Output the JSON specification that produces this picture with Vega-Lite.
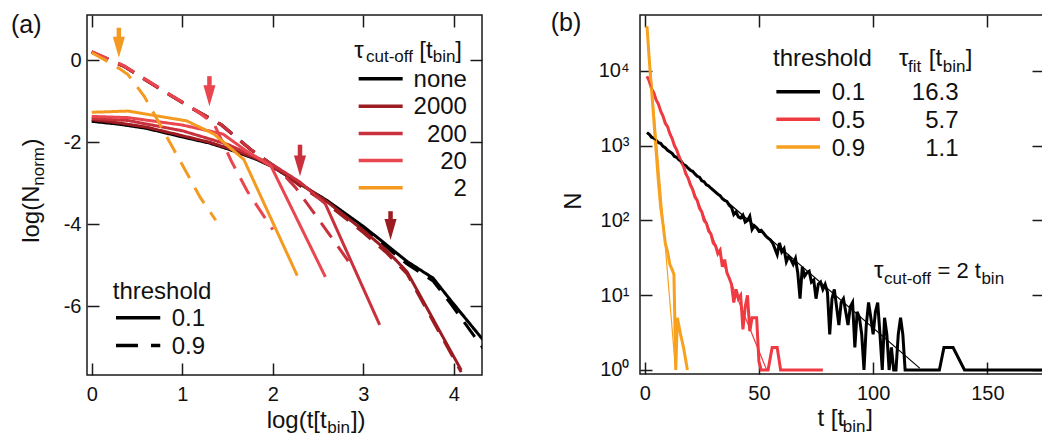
{
"$schema": "https://vega.github.io/schema/vega-lite/v6.json",
"background": "white",
"padding": {"left": 10, "top": 10, "right": 0, "bottom": 0},
"bounds": "flush",
"spacing": 158,
"data": {"values": [{}]},
"resolve": {"scale": {"color": "independent", "strokeDash": "independent"}},
"config": {
  "font": "Liberation Sans",
  "view": {"stroke": "#1a1a1a", "strokeWidth": 1.5},
  "axis": {"domain": false, "grid": false, "tickColor": "#1a1a1a", "tickWidth": 1.5, "tickSize": -12, "labelFontSize": 20, "labelColor": "#111111", "labelFont": "Liberation Sans", "title": null},
  "text": {"font": "Liberation Sans", "fill": "#111111"}
},
"datasets": {
  "curvesA": [
    {"c":"none","h":"0.1","x":0,"y":-1.49},{"c":"none","h":"0.1","x":0.3,"y":-1.56},{"c":"none","h":"0.1","x":0.6,"y":-1.66},{"c":"none","h":"0.1","x":1.0,"y":-1.87},{"c":"none","h":"0.1","x":1.3,"y":-2.02},{"c":"none","h":"0.1","x":1.5,"y":-2.16},{"c":"none","h":"0.1","x":1.8,"y":-2.4},{"c":"none","h":"0.1","x":2.0,"y":-2.6},{"c":"none","h":"0.1","x":2.3,"y":-3.02},{"c":"none","h":"0.1","x":2.6,"y":-3.42},{"c":"none","h":"0.1","x":3.0,"y":-4.05},{"c":"none","h":"0.1","x":3.2,"y":-4.4},{"c":"none","h":"0.1","x":3.48,"y":-4.9},{"c":"none","h":"0.1","x":3.77,"y":-5.31},{"c":"none","h":"0.1","x":3.96,"y":-5.84},{"c":"none","h":"0.1","x":4.29,"y":-6.73},{"c":"none","h":"0.1","x":4.4,"y":-7.0},
    {"c":"none","h":"0.9","x":0,"y":0.2},{"c":"none","h":"0.9","x":0.36,"y":-0.15},{"c":"none","h":"0.9","x":0.8,"y":-0.76},{"c":"none","h":"0.9","x":1.13,"y":-1.2},{"c":"none","h":"0.9","x":1.43,"y":-1.57},{"c":"none","h":"0.9","x":1.76,"y":-2.18},{"c":"none","h":"0.9","x":2.07,"y":-2.67},{"c":"none","h":"0.9","x":2.3,"y":-3.04},{"c":"none","h":"0.9","x":2.6,"y":-3.46},{"c":"none","h":"0.9","x":3.0,"y":-4.1},{"c":"none","h":"0.9","x":3.2,"y":-4.45},{"c":"none","h":"0.9","x":3.48,"y":-4.96},{"c":"none","h":"0.9","x":3.77,"y":-5.38},{"c":"none","h":"0.9","x":3.96,"y":-5.92},{"c":"none","h":"0.9","x":4.29,"y":-6.92},{"c":"none","h":"0.9","x":4.4,"y":-7.25},
    {"c":"2000","h":"0.1","x":0,"y":-1.45},{"c":"2000","h":"0.1","x":0.3,"y":-1.53},{"c":"2000","h":"0.1","x":0.6,"y":-1.63},{"c":"2000","h":"0.1","x":1.0,"y":-1.84},{"c":"2000","h":"0.1","x":1.3,"y":-2.0},{"c":"2000","h":"0.1","x":1.5,"y":-2.14},{"c":"2000","h":"0.1","x":1.8,"y":-2.38},{"c":"2000","h":"0.1","x":2.0,"y":-2.6},{"c":"2000","h":"0.1","x":2.3,"y":-3.0},{"c":"2000","h":"0.1","x":2.6,"y":-3.45},{"c":"2000","h":"0.1","x":3.0,"y":-4.15},{"c":"2000","h":"0.1","x":3.25,"y":-4.62},{"c":"2000","h":"0.1","x":3.48,"y":-5.15},{"c":"2000","h":"0.1","x":4.08,"y":-7.55},
    {"c":"2000","h":"0.9","x":0,"y":0.19},{"c":"2000","h":"0.9","x":0.36,"y":-0.16},{"c":"2000","h":"0.9","x":0.8,"y":-0.77},{"c":"2000","h":"0.9","x":1.13,"y":-1.21},{"c":"2000","h":"0.9","x":1.43,"y":-1.58},{"c":"2000","h":"0.9","x":1.76,"y":-2.19},{"c":"2000","h":"0.9","x":2.07,"y":-2.68},{"c":"2000","h":"0.9","x":2.3,"y":-3.06},{"c":"2000","h":"0.9","x":2.6,"y":-3.5},{"c":"2000","h":"0.9","x":3.0,"y":-4.2},{"c":"2000","h":"0.9","x":3.25,"y":-4.68},{"c":"2000","h":"0.9","x":3.48,"y":-5.2},{"c":"2000","h":"0.9","x":4.08,"y":-7.6},
    {"c":"200","h":"0.1","x":0,"y":-1.42},{"c":"200","h":"0.1","x":0.4,"y":-1.47},{"c":"200","h":"0.1","x":1.0,"y":-1.72},{"c":"200","h":"0.1","x":1.5,"y":-2.05},{"c":"200","h":"0.1","x":2.0,"y":-2.55},{"c":"200","h":"0.1","x":2.3,"y":-2.97},{"c":"200","h":"0.1","x":2.58,"y":-3.5},{"c":"200","h":"0.1","x":3.18,"y":-6.45},
    {"c":"200","h":"0.9","x":0,"y":0.2},{"c":"200","h":"0.9","x":0.36,"y":-0.15},{"c":"200","h":"0.9","x":0.8,"y":-0.76},{"c":"200","h":"0.9","x":1.13,"y":-1.2},{"c":"200","h":"0.9","x":1.43,"y":-1.57},{"c":"200","h":"0.9","x":1.76,"y":-2.18},{"c":"200","h":"0.9","x":2.07,"y":-2.67},{"c":"200","h":"0.9","x":2.25,"y":-3.1},{"c":"200","h":"0.9","x":2.64,"y":-4.29},{"c":"200","h":"0.9","x":2.85,"y":-4.95},
    {"c":"20","h":"0.1","x":0,"y":-1.37},{"c":"20","h":"0.1","x":0.4,"y":-1.4},{"c":"20","h":"0.1","x":1.0,"y":-1.58},{"c":"20","h":"0.1","x":1.45,"y":-1.8},{"c":"20","h":"0.1","x":1.7,"y":-2.2},{"c":"20","h":"0.1","x":1.98,"y":-2.58},{"c":"20","h":"0.1","x":2.58,"y":-5.28},
    {"c":"20","h":"0.9","x":0,"y":0.21},{"c":"20","h":"0.9","x":0.36,"y":-0.14},{"c":"20","h":"0.9","x":0.8,"y":-0.75},{"c":"20","h":"0.9","x":1.13,"y":-1.19},{"c":"20","h":"0.9","x":1.35,"y":-1.55},{"c":"20","h":"0.9","x":1.54,"y":-2.45},{"c":"20","h":"0.9","x":1.72,"y":-3.2},{"c":"20","h":"0.9","x":2.0,"y":-4.13},
    {"c":"2","h":"0.1","x":0,"y":-1.27},{"c":"2","h":"0.1","x":0.4,"y":-1.24},{"c":"2","h":"0.1","x":1.05,"y":-1.48},{"c":"2","h":"0.1","x":1.35,"y":-1.8},{"c":"2","h":"0.1","x":1.68,"y":-2.42},{"c":"2","h":"0.1","x":2.27,"y":-5.25},
    {"c":"2","h":"0.9","x":0,"y":0.18},{"c":"2","h":"0.9","x":0.15,"y":0.0},{"c":"2","h":"0.9","x":0.3,"y":-0.2},{"c":"2","h":"0.9","x":0.4,"y":-0.35},{"c":"2","h":"0.9","x":0.58,"y":-0.88},{"c":"2","h":"0.9","x":0.8,"y":-1.75},{"c":"2","h":"0.9","x":1.0,"y":-2.55},{"c":"2","h":"0.9","x":1.2,"y":-3.35},{"c":"2","h":"0.9","x":1.37,"y":-3.9}
  ],
  "arrowsA": [
    {"c":"2","x":0.3,"top":0.79,"tip":0.06},
    {"c":"20","x":1.3,"top":-0.39,"tip":-1.12},
    {"c":"200","x":2.3,"top":-2.06,"tip":-2.83},
    {"c":"2000","x":3.3,"top":-3.68,"tip":-4.38}
  ],
  "dataB": [
    {"s":"0.1","t":1,"n":1500},{"s":"0.1","t":2,"n":1420},{"s":"0.1","t":3,"n":1300},{"s":"0.1","t":4,"n":1260},{"s":"0.1","t":5,"n":1180},{"s":"0.1","t":6,"n":1100},{"s":"0.1","t":7,"n":1080},{"s":"0.1","t":8,"n":980},{"s":"0.1","t":9,"n":940},{"s":"0.1","t":10,"n":870},
    {"s":"0.1","t":11,"n":830},{"s":"0.1","t":12,"n":790},{"s":"0.1","t":13,"n":720},{"s":"0.1","t":14,"n":700},{"s":"0.1","t":15,"n":650},{"s":"0.1","t":16,"n":620},{"s":"0.1","t":17,"n":560},{"s":"0.1","t":18,"n":540},{"s":"0.1","t":19,"n":500},{"s":"0.1","t":20,"n":470},
    {"s":"0.1","t":21,"n":455},{"s":"0.1","t":22,"n":420},{"s":"0.1","t":23,"n":390},{"s":"0.1","t":24,"n":380},{"s":"0.1","t":25,"n":340},{"s":"0.1","t":26,"n":330},{"s":"0.1","t":27,"n":300},{"s":"0.1","t":28,"n":290},{"s":"0.1","t":29,"n":270},{"s":"0.1","t":30,"n":255},
    {"s":"0.1","t":31,"n":240},{"s":"0.1","t":32,"n":225},{"s":"0.1","t":33,"n":215},{"s":"0.1","t":34,"n":195},{"s":"0.1","t":35,"n":185},{"s":"0.1","t":36,"n":180},{"s":"0.1","t":37,"n":160},{"s":"0.1","t":38,"n":150},{"s":"0.1","t":39,"n":120},{"s":"0.1","t":40,"n":130},
    {"s":"0.1","t":41,"n":112},{"s":"0.1","t":42,"n":108},{"s":"0.1","t":43,"n":118},{"s":"0.1","t":44,"n":95},{"s":"0.1","t":45,"n":100},{"s":"0.1","t":46,"n":114},{"s":"0.1","t":47,"n":76},{"s":"0.1","t":48,"n":85},{"s":"0.1","t":49,"n":80},{"s":"0.1","t":50,"n":72},
    {"s":"0.1","t":51,"n":74},{"s":"0.1","t":52,"n":68},{"s":"0.1","t":53,"n":62},{"s":"0.1","t":54,"n":58},{"s":"0.1","t":55,"n":55},{"s":"0.1","t":56,"n":50},{"s":"0.1","t":57,"n":42},{"s":"0.1","t":58,"n":35},{"s":"0.1","t":59,"n":50},{"s":"0.1","t":60,"n":38},
    {"s":"0.1","t":61,"n":42},{"s":"0.1","t":62,"n":28},{"s":"0.1","t":63,"n":33},{"s":"0.1","t":64,"n":30},{"s":"0.1","t":65,"n":26},{"s":"0.1","t":66,"n":31},{"s":"0.1","t":67,"n":20},{"s":"0.1","t":68,"n":9},{"s":"0.1","t":69,"n":24},{"s":"0.1","t":70,"n":18},
    {"s":"0.1","t":71,"n":20},{"s":"0.1","t":72,"n":21},{"s":"0.1","t":73,"n":15},{"s":"0.1","t":74,"n":16},{"s":"0.1","t":75,"n":9},{"s":"0.1","t":76,"n":14},{"s":"0.1","t":77,"n":15},{"s":"0.1","t":78,"n":12},{"s":"0.1","t":79,"n":14},{"s":"0.1","t":80,"n":11},
    {"s":"0.1","t":81,"n":3},{"s":"0.1","t":82,"n":9},{"s":"0.1","t":83,"n":12},{"s":"0.1","t":84,"n":7},{"s":"0.1","t":85,"n":4},{"s":"0.1","t":86,"n":8},{"s":"0.1","t":87,"n":9},{"s":"0.1","t":88,"n":6},{"s":"0.1","t":89,"n":4},{"s":"0.1","t":90,"n":7},
    {"s":"0.1","t":91,"n":8},{"s":"0.1","t":92,"n":2},{"s":"0.1","t":93,"n":6},{"s":"0.1","t":94,"n":5},{"s":"0.1","t":95,"n":3},{"s":"0.1","t":96,"n":1},{"s":"0.1","t":97,"n":4},{"s":"0.1","t":98,"n":8},{"s":"0.1","t":99,"n":5},{"s":"0.1","t":100,"n":3},
    {"s":"0.1","t":101,"n":6},{"s":"0.1","t":102,"n":8},{"s":"0.1","t":103,"n":3},{"s":"0.1","t":104,"n":1},{"s":"0.1","t":105,"n":5},{"s":"0.1","t":106,"n":3},{"s":"0.1","t":107,"n":1},{"s":"0.1","t":108,"n":2},{"s":"0.1","t":109,"n":1},{"s":"0.1","t":110,"n":1},
    {"s":"0.1","t":111,"n":3},{"s":"0.1","t":112,"n":5},{"s":"0.1","t":113,"n":3},{"s":"0.1","t":114,"n":1},{"s":"0.1","t":129,"n":1},{"s":"0.1","t":131,"n":2},{"s":"0.1","t":135,"n":2},{"s":"0.1","t":140,"n":1},{"s":"0.1","t":176,"n":1},
    {"s":"0.5","t":1,"n":8500},{"s":"0.5","t":2,"n":7300},{"s":"0.5","t":3,"n":5800},{"s":"0.5","t":4,"n":5100},{"s":"0.5","t":5,"n":4100},{"s":"0.5","t":6,"n":3600},{"s":"0.5","t":7,"n":2900},{"s":"0.5","t":8,"n":2500},{"s":"0.5","t":9,"n":2000},{"s":"0.5","t":10,"n":1800},
    {"s":"0.5","t":11,"n":1450},{"s":"0.5","t":12,"n":1250},{"s":"0.5","t":13,"n":1000},{"s":"0.5","t":14,"n":880},{"s":"0.5","t":15,"n":720},{"s":"0.5","t":16,"n":600},{"s":"0.5","t":17,"n":530},{"s":"0.5","t":18,"n":420},{"s":"0.5","t":19,"n":370},{"s":"0.5","t":20,"n":300},
    {"s":"0.5","t":21,"n":260},{"s":"0.5","t":22,"n":205},{"s":"0.5","t":23,"n":185},{"s":"0.5","t":24,"n":145},{"s":"0.5","t":25,"n":130},{"s":"0.5","t":26,"n":100},{"s":"0.5","t":27,"n":92},{"s":"0.5","t":28,"n":72},{"s":"0.5","t":29,"n":66},{"s":"0.5","t":30,"n":50},
    {"s":"0.5","t":31,"n":46},{"s":"0.5","t":32,"n":36},{"s":"0.5","t":33,"n":40},{"s":"0.5","t":34,"n":24},{"s":"0.5","t":35,"n":30},{"s":"0.5","t":36,"n":20},{"s":"0.5","t":37,"n":17},{"s":"0.5","t":38,"n":14},{"s":"0.5","t":39,"n":8},{"s":"0.5","t":40,"n":12},
    {"s":"0.5","t":41,"n":9},{"s":"0.5","t":42,"n":10},{"s":"0.5","t":43,"n":3.5},{"s":"0.5","t":44,"n":7},{"s":"0.5","t":45,"n":10},{"s":"0.5","t":46,"n":3.3},{"s":"0.5","t":47,"n":5},{"s":"0.5","t":49,"n":5},{"s":"0.5","t":50,"n":1.3},{"s":"0.5","t":51,"n":1},
    {"s":"0.5","t":54,"n":1},{"s":"0.5","t":55.8,"n":2},{"s":"0.5","t":58,"n":2},{"s":"0.5","t":59.5,"n":1},{"s":"0.5","t":78,"n":1},
    {"s":"0.9","t":1,"n":40000},{"s":"0.9","t":2,"n":14000},{"s":"0.9","t":3,"n":5600},{"s":"0.9","t":4,"n":2200},{"s":"0.9","t":5,"n":850},{"s":"0.9","t":6,"n":330},{"s":"0.9","t":7,"n":150},{"s":"0.9","t":8,"n":90},{"s":"0.9","t":9,"n":50},{"s":"0.9","t":10,"n":38},
    {"s":"0.9","t":11,"n":26},{"s":"0.9","t":12,"n":22},{"s":"0.9","t":12.8,"n":19},{"s":"0.9","t":13.6,"n":1},{"s":"0.9","t":14.3,"n":5},{"s":"0.9","t":15.7,"n":3},{"s":"0.9","t":17,"n":2},{"s":"0.9","t":18.7,"n":1}
  ],
  "fitB": [
    {"s":"0.1","t":1,"n":1500},{"s":"0.1","t":120.5,"n":1.05},
    {"s":"0.5","t":1,"n":8500},{"s":"0.5","t":53.4,"n":1},
    {"s":"0.9","t":1,"n":40000},{"s":"0.9","t":13.5,"n":1}
  ]
},
"hconcat": [
  {
    "width": 395, "height": 360,
    "resolve": {"axis": {"x": "independent", "y": "independent"}},
    "layer": [
      {
        "layer": [
          {"data": {"name": "curvesA"},
           "mark": {"type": "line", "strokeWidth": 3, "clip": true},
           "encoding": {
             "x": {"field": "x", "type": "quantitative", "scale": {"domain": [-0.052, 4.31], "nice": false, "zero": false},
                   "axis": {"values": [0,1,2,3,4], "labelPadding": 21, "labelExpr": "toString(datum.value)", "title": null}},
             "y": {"field": "y", "type": "quantitative", "scale": {"domain": [-7.67, 1.1], "nice": false, "zero": false},
                   "axis": {"values": [0,-2,-4,-6], "labelPadding": 18, "labelExpr": "toString(datum.value)", "title": null}},
             "color": {"field": "c", "type": "nominal", "scale": {"domain": ["none","2000","200","20","2"], "range": ["#000000","#9c1c22","#c9313d","#e9464f","#f59a21"]}, "legend": null},
             "strokeDash": {"field": "h", "type": "nominal", "scale": {"domain": ["0.1","0.9"], "range": [[1,0],[18,11]]}, "legend": null}
           }},
          {"data": {"name": "arrowsA"},
           "mark": {"type": "rule", "strokeWidth": 4.5, "y2Offset": -14},
           "encoding": {"x": {"field": "x", "type": "quantitative"}, "y": {"field": "top", "type": "quantitative"}, "y2": {"field": "tip"},
                        "color": {"field": "c", "type": "nominal", "legend": null}}},
          {"data": {"name": "arrowsA"},
           "mark": {"type": "point", "shape": "M-0.55,-1.9L0.55,-1.9L0,0Z", "size": 484, "filled": true, "opacity": 1, "strokeWidth": 0},
           "encoding": {"x": {"field": "x", "type": "quantitative"}, "y": {"field": "tip", "type": "quantitative"},
                        "color": {"field": "c", "type": "nominal", "legend": null}}},
          {"mark": {"type": "rule", "strokeWidth": 3.5, "color": "#000000"}, "encoding": {"x": {"datum": 2.948}, "x2": {"datum": 3.434}, "y": {"datum": -0.456}}},
          {"mark": {"type": "rule", "strokeWidth": 3.5, "color": "#9c1c22"}, "encoding": {"x": {"datum": 2.948}, "x2": {"datum": 3.434}, "y": {"datum": -1.12}}},
          {"mark": {"type": "rule", "strokeWidth": 3.5, "color": "#c9313d"}, "encoding": {"x": {"datum": 2.948}, "x2": {"datum": 3.434}, "y": {"datum": -1.788}}},
          {"mark": {"type": "rule", "strokeWidth": 3.5, "color": "#e9464f"}, "encoding": {"x": {"datum": 2.948}, "x2": {"datum": 3.434}, "y": {"datum": -2.446}}},
          {"mark": {"type": "rule", "strokeWidth": 3.5, "color": "#f59a21"}, "encoding": {"x": {"datum": 2.948}, "x2": {"datum": 3.434}, "y": {"datum": -3.111}}},
          {"mark": {"type": "text", "text": "none", "align": "right", "baseline": "alphabetic", "fontSize": 24}, "encoding": {"x": {"datum": 4.144}, "y": {"datum": -0.658}}},
          {"mark": {"type": "text", "text": "2000", "align": "right", "baseline": "alphabetic", "fontSize": 24}, "encoding": {"x": {"datum": 4.144}, "y": {"datum": -1.323}}},
          {"mark": {"type": "text", "text": "200", "align": "right", "baseline": "alphabetic", "fontSize": 24}, "encoding": {"x": {"datum": 4.144}, "y": {"datum": -1.99}}},
          {"mark": {"type": "text", "text": "20", "align": "right", "baseline": "alphabetic", "fontSize": 24}, "encoding": {"x": {"datum": 4.144}, "y": {"datum": -2.648}}},
          {"mark": {"type": "text", "text": "2", "align": "right", "baseline": "alphabetic", "fontSize": 24}, "encoding": {"x": {"datum": 4.144}, "y": {"datum": -3.313}}},
          {"mark": {"type": "text", "text": "τ", "align": "left", "baseline": "alphabetic", "fontSize": 24}, "encoding": {"x": {"datum": 2.9}, "y": {"datum": 0.056}}},
          {"mark": {"type": "text", "text": "cut-off", "align": "left", "baseline": "alphabetic", "fontSize": 17}, "encoding": {"x": {"datum": 3.029}, "y": {"datum": -0.041}}},
          {"mark": {"type": "text", "text": "[t", "align": "left", "baseline": "alphabetic", "fontSize": 24}, "encoding": {"x": {"datum": 3.617}, "y": {"datum": 0.056}}},
          {"mark": {"type": "text", "text": "bin", "align": "left", "baseline": "alphabetic", "fontSize": 17}, "encoding": {"x": {"datum": 3.766}, "y": {"datum": -0.041}}},
          {"mark": {"type": "text", "text": "]", "align": "left", "baseline": "alphabetic", "fontSize": 24}, "encoding": {"x": {"datum": 4.014}, "y": {"datum": 0.056}}},
          {"mark": {"type": "rule", "strokeWidth": 3.5, "color": "#000000"}, "encoding": {"x": {"datum": 0.268}, "x2": {"datum": 0.757}, "y": {"datum": -6.278}}},
          {"mark": {"type": "rule", "strokeWidth": 3.5, "color": "#000000", "strokeDash": [22,13]}, "encoding": {"x": {"datum": 0.268}, "x2": {"datum": 0.757}, "y": {"datum": -6.953}}},
          {"mark": {"type": "text", "text": "threshold", "align": "left", "baseline": "alphabetic", "fontSize": 24}, "encoding": {"x": {"datum": 0.232}, "y": {"datum": -5.815}}},
          {"mark": {"type": "text", "text": "0.1", "align": "left", "baseline": "alphabetic", "fontSize": 24}, "encoding": {"x": {"datum": 0.883}, "y": {"datum": -6.485}}},
          {"mark": {"type": "text", "text": "0.9", "align": "left", "baseline": "alphabetic", "fontSize": 24}, "encoding": {"x": {"datum": 0.883}, "y": {"datum": -7.16}}},
          {"mark": {"type": "text", "text": "log(t[t", "align": "left", "baseline": "alphabetic", "fontSize": 24}, "encoding": {"x": {"datum": 1.932}, "y": {"datum": -8.957}}},
          {"mark": {"type": "text", "text": "bin", "align": "left", "baseline": "alphabetic", "fontSize": 17}, "encoding": {"x": {"datum": 2.602}, "y": {"datum": -9.091}}},
          {"mark": {"type": "text", "text": "])", "align": "left", "baseline": "alphabetic", "fontSize": 24}, "encoding": {"x": {"datum": 2.862}, "y": {"datum": -8.957}}},
          {"mark": {"type": "text", "text": "log(N", "align": "left", "baseline": "alphabetic", "fontSize": 24, "angle": 270}, "encoding": {"x": {"datum": -0.582}, "y": {"datum": -4.451}}},
          {"mark": {"type": "text", "text": "norm", "align": "left", "baseline": "alphabetic", "fontSize": 17, "angle": 270}, "encoding": {"x": {"datum": -0.532}, "y": {"datum": -3.06}}},
          {"mark": {"type": "text", "text": ")", "align": "left", "baseline": "alphabetic", "fontSize": 24, "angle": 270}, "encoding": {"x": {"datum": -0.582}, "y": {"datum": -2.105}}},
          {"mark": {"type": "text", "text": "(a)", "align": "left", "baseline": "alphabetic", "fontSize": 25}, "encoding": {"x": {"datum": -0.891}, "y": {"datum": 0.653}}}
        ]
      },
      {
        "mark": {"type": "point", "opacity": 0},
        "encoding": {
          "x": {"datum": 0, "type": "quantitative", "axis": {"orient": "top", "values": [0,1,2,3,4], "labels": false, "title": null}},
          "y": {"datum": 0, "type": "quantitative", "axis": {"orient": "right", "values": [0,-2,-4,-6], "labels": false, "title": null}}
        }
      }
    ]
  },
  {
    "width": 404, "height": 359,
    "resolve": {"axis": {"x": "independent", "y": "independent"}},
    "layer": [
      {
        "layer": [
          {"data": {"name": "dataB"},
           "mark": {"type": "line", "strokeWidth": 3, "clip": true, "strokeJoin": "miter"},
           "encoding": {
             "x": {"field": "t", "type": "quantitative", "scale": {"domain": [-2.06, 174.8], "nice": false, "zero": false},
                   "axis": {"values": [0,50,100,150], "labelPadding": 21, "title": null}},
             "y": {"field": "n", "type": "quantitative", "scale": {"type": "log", "domain": [0.884, 56100], "nice": false},
                   "axis": {"values": [1,10,100,1000,10000], "labelPadding": 23, "title": null,
                            "labelExpr": "'10' + (datum.value < 5 ? '⁰' : datum.value < 50 ? '¹' : datum.value < 500 ? '²' : datum.value < 5000 ? '³' : '⁴')"}},
             "color": {"field": "s", "type": "nominal", "scale": {"domain": ["0.1","0.5","0.9"], "range": ["#000000","#ef3a42","#f7a11f"]}, "legend": null}
           }},
          {"data": {"name": "fitB"},
           "mark": {"type": "line", "strokeWidth": 1.2, "clip": true},
           "encoding": {"x": {"field": "t", "type": "quantitative"}, "y": {"field": "n", "type": "quantitative"},
                        "color": {"field": "s", "type": "nominal", "legend": null}}},
          {"mark": {"type": "rule", "strokeWidth": 3.5, "color": "#000000"}, "encoding": {"x": {"datum": 57.64}, "x2": {"datum": 76.73}, "y": {"datum": 5283}}},
          {"mark": {"type": "rule", "strokeWidth": 3.5, "color": "#ef3a42"}, "encoding": {"x": {"datum": 57.64}, "x2": {"datum": 76.73}, "y": {"datum": 2256}}},
          {"mark": {"type": "rule", "strokeWidth": 3.5, "color": "#f7a11f"}, "encoding": {"x": {"datum": 57.64}, "x2": {"datum": 76.73}, "y": {"datum": 960}}},
          {"mark": {"type": "text", "text": "0.1", "align": "left", "baseline": "alphabetic", "fontSize": 24}, "encoding": {"x": {"datum": 81.85}, "y": {"datum": 4064}}},
          {"mark": {"type": "text", "text": "0.5", "align": "left", "baseline": "alphabetic", "fontSize": 24}, "encoding": {"x": {"datum": 81.85}, "y": {"datum": 1735}}},
          {"mark": {"type": "text", "text": "0.9", "align": "left", "baseline": "alphabetic", "fontSize": 24}, "encoding": {"x": {"datum": 81.85}, "y": {"datum": 738}}},
          {"mark": {"type": "text", "text": "16.3", "align": "right", "baseline": "alphabetic", "fontSize": 24}, "encoding": {"x": {"datum": 137.4}, "y": {"datum": 4064}}},
          {"mark": {"type": "text", "text": "5.7", "align": "right", "baseline": "alphabetic", "fontSize": 24}, "encoding": {"x": {"datum": 137.4}, "y": {"datum": 1735}}},
          {"mark": {"type": "text", "text": "1.1", "align": "right", "baseline": "alphabetic", "fontSize": 24}, "encoding": {"x": {"datum": 137.4}, "y": {"datum": 738}}},
          {"mark": {"type": "text", "text": "threshold", "align": "left", "baseline": "alphabetic", "fontSize": 24}, "encoding": {"x": {"datum": 56.18}, "y": {"datum": 11670}}},
          {"mark": {"type": "text", "text": "τ", "align": "left", "baseline": "alphabetic", "fontSize": 24}, "encoding": {"x": {"datum": 111.37}, "y": {"datum": 11670}}},
          {"mark": {"type": "text", "text": "fit", "align": "left", "baseline": "alphabetic", "fontSize": 17}, "encoding": {"x": {"datum": 115.3}, "y": {"datum": 9700}}},
          {"mark": {"type": "text", "text": "[t", "align": "left", "baseline": "alphabetic", "fontSize": 24}, "encoding": {"x": {"datum": 124.4}, "y": {"datum": 11670}}},
          {"mark": {"type": "text", "text": "bin", "align": "left", "baseline": "alphabetic", "fontSize": 17}, "encoding": {"x": {"datum": 130.5}, "y": {"datum": 9700}}},
          {"mark": {"type": "text", "text": "]", "align": "left", "baseline": "alphabetic", "fontSize": 24}, "encoding": {"x": {"datum": 140.5}, "y": {"datum": 11670}}},
          {"mark": {"type": "text", "text": "τ", "align": "left", "baseline": "alphabetic", "fontSize": 24}, "encoding": {"x": {"datum": 100.4}, "y": {"datum": 17.06}}},
          {"mark": {"type": "text", "text": "cut-off", "align": "left", "baseline": "alphabetic", "fontSize": 17}, "encoding": {"x": {"datum": 104.74}, "y": {"datum": 14.05}}},
          {"mark": {"type": "text", "text": "= 2 t", "align": "left", "baseline": "alphabetic", "fontSize": 22}, "encoding": {"x": {"datum": 128.2}, "y": {"datum": 17.06}}},
          {"mark": {"type": "text", "text": "bin", "align": "left", "baseline": "alphabetic", "fontSize": 17}, "encoding": {"x": {"datum": 147.4}, "y": {"datum": 14.05}}},
          {"mark": {"type": "text", "text": "t [t", "align": "left", "baseline": "alphabetic", "fontSize": 24}, "encoding": {"x": {"datum": 75.59}, "y": {"datum": 0.1762}}},
          {"mark": {"type": "text", "text": "bin", "align": "left", "baseline": "alphabetic", "fontSize": 17}, "encoding": {"x": {"datum": 86.73}, "y": {"datum": 0.1487}}},
          {"mark": {"type": "text", "text": "]", "align": "left", "baseline": "alphabetic", "fontSize": 24}, "encoding": {"x": {"datum": 96.95}, "y": {"datum": 0.1762}}},
          {"mark": {"type": "text", "text": "N", "align": "center", "baseline": "alphabetic", "fontSize": 24, "angle": 270}, "encoding": {"x": {"datum": -28.01}, "y": {"datum": 181.6}}},
          {"mark": {"type": "text", "text": "(b)", "align": "left", "baseline": "alphabetic", "fontSize": 25}, "encoding": {"x": {"datum": -41.14}, "y": {"datum": 33800}}}
        ]
      },
      {
        "mark": {"type": "point", "opacity": 0},
        "encoding": {
          "x": {"datum": 0, "type": "quantitative", "axis": {"orient": "top", "values": [0,50,100,150], "labels": false, "title": null}},
          "y": {"datum": 1, "type": "quantitative", "axis": {"orient": "right", "values": [1,10,100,1000,10000], "labels": false, "title": null}}
        }
      }
    ]
  }
]
}
